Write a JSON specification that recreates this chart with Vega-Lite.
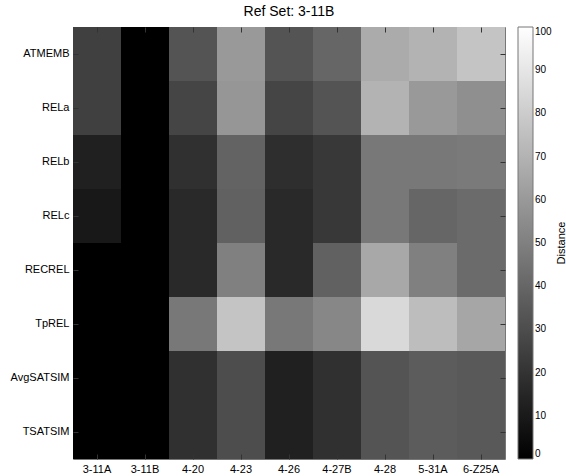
{
  "$schema": "https://vega.github.io/schema/vega-lite/v6.json",
  "width": 432,
  "height": 432,
  "autosize": {"type": "none"},
  "padding": {"left": 73, "top": 27, "right": 61, "bottom": 17},
  "title": {"text": "Ref Set: 3-11B", "fontSize": 14, "fontWeight": "normal", "font": "Liberation Sans", "offset": 8, "anchor": "middle", "color": "black"},
  "config": {
    "view": {"stroke": "#777", "strokeWidth": 1},
    "axis": {"labelFont": "Liberation Sans", "labelFontSize": 11, "labelColor": "black", "tickColor": "#333", "domain": false, "title": null, "grid": false, "labelAngle": 0}
  },
  "data": {"values": [
    {"ref": "3-11A", "m": "ATMEMB", "d": 25}, {"ref": "3-11B", "m": "ATMEMB", "d": 0}, {"ref": "4-20", "m": "ATMEMB", "d": 33}, {"ref": "4-23", "m": "ATMEMB", "d": 60}, {"ref": "4-26", "m": "ATMEMB", "d": 33}, {"ref": "4-27B", "m": "ATMEMB", "d": 40}, {"ref": "4-28", "m": "ATMEMB", "d": 67}, {"ref": "5-31A", "m": "ATMEMB", "d": 70}, {"ref": "6-Z25A", "m": "ATMEMB", "d": 77},
    {"ref": "3-11A", "m": "RELa", "d": 25}, {"ref": "3-11B", "m": "RELa", "d": 0}, {"ref": "4-20", "m": "RELa", "d": 27}, {"ref": "4-23", "m": "RELa", "d": 59}, {"ref": "4-26", "m": "RELa", "d": 27}, {"ref": "4-27B", "m": "RELa", "d": 33}, {"ref": "4-28", "m": "RELa", "d": 70}, {"ref": "5-31A", "m": "RELa", "d": 60}, {"ref": "6-Z25A", "m": "RELa", "d": 56},
    {"ref": "3-11A", "m": "RELb", "d": 12.5}, {"ref": "3-11B", "m": "RELb", "d": 0}, {"ref": "4-20", "m": "RELb", "d": 19}, {"ref": "4-23", "m": "RELb", "d": 39}, {"ref": "4-26", "m": "RELb", "d": 18}, {"ref": "4-27B", "m": "RELb", "d": 22}, {"ref": "4-28", "m": "RELb", "d": 47}, {"ref": "5-31A", "m": "RELb", "d": 47}, {"ref": "6-Z25A", "m": "RELb", "d": 48},
    {"ref": "3-11A", "m": "RELc", "d": 9.4}, {"ref": "3-11B", "m": "RELc", "d": 0}, {"ref": "4-20", "m": "RELc", "d": 16}, {"ref": "4-23", "m": "RELc", "d": 38}, {"ref": "4-26", "m": "RELc", "d": 16}, {"ref": "4-27B", "m": "RELc", "d": 22}, {"ref": "4-28", "m": "RELc", "d": 47}, {"ref": "5-31A", "m": "RELc", "d": 40}, {"ref": "6-Z25A", "m": "RELc", "d": 42},
    {"ref": "3-11A", "m": "RECREL", "d": 0}, {"ref": "3-11B", "m": "RECREL", "d": 0}, {"ref": "4-20", "m": "RECREL", "d": 16}, {"ref": "4-23", "m": "RECREL", "d": 50}, {"ref": "4-26", "m": "RECREL", "d": 16}, {"ref": "4-27B", "m": "RECREL", "d": 38}, {"ref": "4-28", "m": "RECREL", "d": 66}, {"ref": "5-31A", "m": "RECREL", "d": 50}, {"ref": "6-Z25A", "m": "RECREL", "d": 42},
    {"ref": "3-11A", "m": "TpREL", "d": 0}, {"ref": "3-11B", "m": "TpREL", "d": 0}, {"ref": "4-20", "m": "TpREL", "d": 47}, {"ref": "4-23", "m": "TpREL", "d": 77}, {"ref": "4-26", "m": "TpREL", "d": 47}, {"ref": "4-27B", "m": "TpREL", "d": 53}, {"ref": "4-28", "m": "TpREL", "d": 85}, {"ref": "5-31A", "m": "TpREL", "d": 74}, {"ref": "6-Z25A", "m": "TpREL", "d": 65},
    {"ref": "3-11A", "m": "AvgSATSIM", "d": 0}, {"ref": "3-11B", "m": "AvgSATSIM", "d": 0}, {"ref": "4-20", "m": "AvgSATSIM", "d": 19}, {"ref": "4-23", "m": "AvgSATSIM", "d": 30}, {"ref": "4-26", "m": "AvgSATSIM", "d": 12.5}, {"ref": "4-27B", "m": "AvgSATSIM", "d": 19}, {"ref": "4-28", "m": "AvgSATSIM", "d": 33}, {"ref": "5-31A", "m": "AvgSATSIM", "d": 36}, {"ref": "6-Z25A", "m": "AvgSATSIM", "d": 35},
    {"ref": "3-11A", "m": "TSATSIM", "d": 0}, {"ref": "3-11B", "m": "TSATSIM", "d": 0}, {"ref": "4-20", "m": "TSATSIM", "d": 19}, {"ref": "4-23", "m": "TSATSIM", "d": 30}, {"ref": "4-26", "m": "TSATSIM", "d": 12.5}, {"ref": "4-27B", "m": "TSATSIM", "d": 19}, {"ref": "4-28", "m": "TSATSIM", "d": 33}, {"ref": "5-31A", "m": "TSATSIM", "d": 36}, {"ref": "6-Z25A", "m": "TSATSIM", "d": 35}
  ]},
  "layer": [
    {
      "mark": {"type": "rect"},
      "encoding": {
        "x": {"field": "ref", "type": "nominal", "sort": ["3-11A","3-11B","4-20","4-23","4-26","4-27B","4-28","5-31A","6-Z25A"], "scale": {"paddingInner": 0, "paddingOuter": 0}, "axis": {"orient": "bottom", "tickSize": -5, "labelPadding": 9}},
        "y": {"field": "m", "type": "nominal", "sort": ["ATMEMB","RELa","RELb","RELc","RECREL","TpREL","AvgSATSIM","TSATSIM"], "scale": {"paddingInner": 0, "paddingOuter": 0}, "axis": {"orient": "left", "tickSize": -5, "labelPadding": 9}},
        "color": {"field": "d", "type": "quantitative", "scale": {"domain": [0, 100], "range": ["#000000", "#ffffff"], "interpolate": "rgb"},
          "legend": {"title": "Distance", "titleOrient": "right", "titleAnchor": "middle", "titlePadding": 3, "titleFont": "Liberation Sans", "titleFontSize": 11, "titleFontWeight": "normal", "titleColor": "black", "gradientLength": 432, "gradientThickness": 15, "values": [0,10,20,30,40,50,60,70,80,90,100], "labelOverlap": false, "labelFont": "Liberation Sans", "labelFontSize": 10, "labelColor": "black", "offset": 12, "gradientStrokeColor": "#777", "gradientStrokeWidth": 1, "padding": 0,
            "encode": {"title": {"update": {"angle": {"value": 270}, "dy": {"value": 12}}}}}}
      }
    },
    {
      "mark": {"type": "rect", "fillOpacity": 0},
      "encoding": {
        "x": {"field": "ref", "type": "nominal", "sort": ["3-11A","3-11B","4-20","4-23","4-26","4-27B","4-28","5-31A","6-Z25A"], "axis": {"orient": "top", "tickSize": -5, "labels": false}},
        "y": {"field": "m", "type": "nominal", "sort": ["ATMEMB","RELa","RELb","RELc","RECREL","TpREL","AvgSATSIM","TSATSIM"], "axis": {"orient": "right", "tickSize": -5, "labels": false}}
      }
    }
  ],
  "resolve": {"axis": {"x": "independent", "y": "independent"}}
}
